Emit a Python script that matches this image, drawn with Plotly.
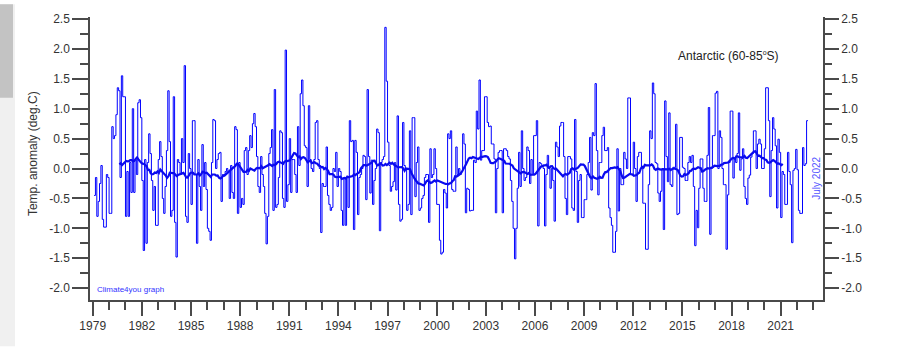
import numpy as np
import plotly.graph_objects as go

# Monthly temperature anomalies (deg C), Antarctic 60-85S, Jan 1979 - Jul 2022
anom_1979_1988 = [
    -0.45, -0.15, -0.8, -0.55, -0.25, 0.05, -0.85, -0.98, -0.98, -0.1, -0.15, -0.75,
    -0.75, 0.7, 0.5, 0.55, 0.9, 1.35, 1.3, -0.15, 1.55, 1.2, 1.2, -0.8,
    -0.05, -0.8, 0.1, -0.4, 1.0, -0.4, 0.15, -0.1, 1.1, 1.15, 0.85, -0.2,
    -1.37, 0.15, -1.25, 0.1, 0.58, 0.25, -0.2, -0.7, -0.3, -0.95, -0.95, 0.15,
    0.45, 0.2, -0.5, -0.75, -0.3, 0.3, 1.3, 0.45, -0.8, -0.7, 1.2, -0.9,
    -1.48, 0.15, 0.1, -0.1, 0.5, 0.1, 1.72, -0.8, -0.9, 0.25, 0.0, -0.6,
    0.8, 0.8, -0.1, -1.25, 0.15, -0.3, -0.7, 0.4, -0.3, 0.1, -0.35, -1.0,
    -1.05, -1.2, 0.1, 0.82, 0.8, 0.0, 0.15, 0.25, 0.27, -0.55, -0.1, -0.1,
    -0.05, 0.0, -0.05, -0.5, 0.05, -0.4, -0.5, 0.7, 0.65, -0.75, 0.1, -0.65,
    -0.5, -0.6, 0.3, 0.35, -0.1, 0.3, 0.55, 0.35, 0.75, 0.92, 0.7, 0.2,
]
anom_1989_1998 = [
    -0.3, -0.4, 0.2, -0.1, -0.3, -0.75, -1.26, -0.8, 0.25, 0.35, 0.65, -0.7,
    1.32, -0.65, -0.6, -0.15, 0.63, 0.6, -0.5, -0.65, 1.98, -0.55, -0.27, 0.5,
    -0.4, 0.15, 0.15, -0.1, -0.4, 0.7, 0.05, 1.25, 1.48, 1.05, 0.38, 0.35,
    -0.3, 1.05, 0.15, 0.0, -0.05, 0.15, 0.77, 0.8, 0.15, 0.0, -1.07, -0.25,
    -0.3, -0.3, 0.36, -0.45, -0.6, -0.7, -0.65, 0.0, -0.05, 0.27, -0.3, 0.0,
    -0.05, -0.7, -0.95, -0.15, -0.95, -0.15, -0.65, 0.8, 0.45, 0.47, -1.02, 0.47,
    0.27, -0.77, -0.15, -0.1, 0.0, 0.22, 0.2, -0.52, 1.32, 0.2, -0.41, 0.14,
    -0.6, -0.2, 0.0, 0.66, 0.6, -1.04, 0.1, 0.15, 0.2, 2.36, 1.46, 0.44,
    0.05, -0.38, -0.3, -0.22, 0.1, -0.36, 0.88, -0.6, -0.88, -0.85, 0.77, 0.05,
    0.0, -0.7, -0.6, 0.63, -0.77, 0.85, 0.85, -0.47, 0.1, 0.36, -0.7, -0.66,
]
anom_1999_2008 = [
    -0.5, -0.45, -0.15, -0.1, -0.1, -0.9, 0.33, -0.15, -0.1, 0.33, 0.0, -0.6,
    -0.6, -1.2, -1.43, -1.4, -0.35, -0.41, -0.66, 0.58, 0.5, 0.63, -0.35, -0.38,
    -0.38, 0.36, -0.1, 0.0, -0.1, -0.05, 0.58, 0.41, -0.74, -0.33, -0.35, -0.71,
    -0.7, -0.7, 0.14, 0.1, 0.96, 0.66, 1.48, 0.14, 0.3, 0.3, 1.2, 1.2,
    0.77, 0.7, 0.71, 0.41, 0.41, 0.16, -0.74, 0.0, 0.27, 0.3, 0.3, -0.74,
    0.33, 0.33, 0.3, 0.2, 0.16, -0.2, -0.55, -1.0, -1.51, -1.0, -0.33, 0.27,
    -0.3, 0.63, 0.0, -0.2, -0.15, 0.36, 0.3, -0.25, 0.15, -0.1, 0.55, 0.55,
    0.8, -0.96, 0.1, 0.08, 0.05, 0.0, -0.96, -0.1, 0.22, 0.0, -0.33, 0.0,
    -0.2, -0.88, 0.44, 0.36, 0.2, 0.71, 0.77, 0.77, 0.2, -0.5, -0.77, 0.2,
    0.2, 0.16, -0.66, -0.7, 0.82, -0.05, -0.9, -0.2, -0.1, -0.82, -0.82, -0.52,
]
anom_2009_2018 = [
    -0.52, -0.1, 0.1, 0.52, -0.36, 0.6, 0.55, 1.42, 0.3, -0.44, 0.1, 0.1,
    0.55, 0.69, 0.3, 0.3, 0.35, -0.66, -0.82, -0.95, -1.4, -1.4, -1.05, 0.33,
    -0.71, 0.0, -0.27, -0.27, 0.27, 0.16, 0.0, 1.18, 1.18, -0.1, -0.1, 0.44,
    0.0, -0.55, 0.2, 0.27, 0.27, 0.0, -0.58, -0.58, -1.35, -1.35, -0.27, 0.63,
    0.5, 1.43, 1.25, 0.1, 0.08, -0.41, -0.55, -0.38, 0.0, -1.02, 1.13, 0.2,
    -0.22, 0.93, -0.27, -0.3, 0.02, 0.02, 0.74, -0.77, -0.75, 0.52, 0.52, 0.02,
    0.0, -0.2, -0.2, 0.1, 0.2, 0.1, 0.22, -0.3, -1.29, -0.7, -0.99, -0.33,
    0.16, 0.16, -0.33, -0.55, -0.55, 0.22, 1.02, -1.1, 0.0, 0.55, 0.55, 1.26,
    1.29, 0.0, 0.63, 0.52, 0.0, -0.27, -0.27, -1.35, -0.44, 0.1, 0.96, 0.96,
    -0.16, 0.16, 0.1, 0.25, 0.93, -0.03, 0.16, 0.33, -0.3, -0.5, -0.6, -0.16,
]
anom_2019_2022 = [
    -0.11, 0.19, 0.25, 0.63, 0.63, 0.0, 0.41, 0.49, 0.41, 0.0, 0.0, 0.33,
    1.35, 1.35, 0.8, -0.47, 0.3, 0.85, 0.66, 0.38, -0.66, 0.49, 0.27, -0.82,
    -0.05, -0.1, -0.6, -0.6, 0.27, -0.05, -0.27, -1.24, -0.03, 0.0, 0.32, -0.02,
    -0.7, -0.75, -0.75, 0.35, 0.05, 0.08, 0.8,
]

y_major = [-2.0, -1.5, -1.0, -0.5, 0.0, 0.5, 1.0, 1.5, 2.0, 2.5]
y_labels = ["-2.0", "-1.5", "-1.0", "-0.5", "0.0", "0.5", "1.0", "1.5", "2.0", "2.5"]
y_minor = [-1.75, -1.25, -0.75, -0.25, 0.25, 0.75, 1.25, 1.75, 2.25]
x_major = list(range(1979, 2022, 3))
x_labels = [str(v) for v in x_major]
x_minor = list(range(1979, 2024))

RUN_WINDOW = 37  # months in the centred running mean

anomaly = np.array(anom_1979_1988 + anom_1989_1998 + anom_1999_2008
                   + anom_2009_2018 + anom_2019_2022)
n = len(anomaly)
t_start = 1979 + (np.arange(n) + 1) / 12.0
# close the last monthly step
x_step = np.append(t_start, t_start[-1] + 1 / 12.0)
y_step = np.append(anomaly, anomaly[-1])

half = RUN_WINDOW // 2
run_mean = np.convolve(anomaly, np.ones(RUN_WINDOW) / RUN_WINDOW, mode="valid")
t_run = t_start[half:n - half] + 0.5 / 12.0

AXIS_COL = "#4a4a4a"
TICK_FONT = dict(family="Liberation Sans, Arial, sans-serif", size=12, color="#333333")

fig = go.Figure()
fig.add_trace(go.Scatter(
    x=x_step, y=y_step, mode="lines", line=dict(color="#0000ff", width=1, shape="hv"),
    hoverinfo="skip", yaxis="y",
))
fig.add_trace(go.Scatter(
    x=t_run, y=run_mean, mode="lines", line=dict(color="#0a0aee", width=2.2),
    hoverinfo="skip", yaxis="y2",
))

y_range = [-2.198, 2.533]
fig.update_layout(
    width=900, height=347,
    margin=dict(l=90, r=77, t=13, b=47, pad=0),
    paper_bgcolor="white", plot_bgcolor="white",
    showlegend=False,
    font=dict(family="Liberation Sans, Arial, sans-serif", size=12, color="#333333"),
    xaxis=dict(
        range=[1978.835, 2023.585], showgrid=False, zeroline=False,
        showline=True, linecolor=AXIS_COL, linewidth=1.5,
        ticks="outside", ticklen=14, tickwidth=1.5, tickcolor=AXIS_COL,
        tickmode="array", tickvals=x_major, ticktext=x_labels, tickfont=TICK_FONT,
        minor=dict(tickvals=x_minor, ticks="outside", ticklen=8, tickwidth=1.5,
                   tickcolor=AXIS_COL, showgrid=False),
    ),
    yaxis=dict(
        range=y_range, showgrid=False, zeroline=False,
        showline=True, linecolor=AXIS_COL, linewidth=1.5,
        ticks="outside", ticklen=16, tickwidth=1.5, tickcolor=AXIS_COL,
        tickmode="array", tickvals=y_major, ticktext=y_labels, tickfont=TICK_FONT,
        minor=dict(tickvals=y_minor, ticks="outside", ticklen=8, tickwidth=1.5,
                   tickcolor=AXIS_COL, showgrid=False),
    ),
    yaxis2=dict(
        range=y_range, overlaying="y", side="right", anchor="x",
        showgrid=False, zeroline=False,
        showline=True, linecolor=AXIS_COL, linewidth=1.5,
        ticks="outside", ticklen=14, tickwidth=1.5, tickcolor=AXIS_COL,
        tickmode="array", tickvals=y_major, ticktext=y_labels, tickfont=TICK_FONT,
        minor=dict(tickvals=y_minor, ticks="outside", ticklen=7, tickwidth=1.5,
                   tickcolor=AXIS_COL, showgrid=False),
    ),
)

fig.add_annotation(
    text="Temp. anomaly (deg.C)", xref="paper", yref="paper",
    x=(33 - 90) / 733, y=(300 - 152) / 287, textangle=-90, showarrow=False,
    xanchor="center", yanchor="middle", font=dict(size=12, color="#333333"),
)
fig.add_annotation(
    text="Antarctic (60-85<sup><span style='font-size:7px'>o</span></sup>S)",
    xref="paper", yref="paper",
    x=(676 - 90) / 733, y=(300 - 53) / 287, showarrow=False,
    xanchor="left", yanchor="middle", font=dict(size=12, color="#222222"),
)
fig.add_annotation(
    text="Climate4you graph", xref="paper", yref="paper",
    x=(95 - 90) / 733, y=(300 - 289) / 287, showarrow=False,
    xanchor="left", yanchor="middle", font=dict(size=8, color="#3333ff"),
)
fig.add_annotation(
    text="July 2022", xref="paper", yref="paper",
    x=(816.5 - 90) / 733, y=(300 - 176.5) / 287, textangle=-90, showarrow=False,
    xanchor="center", yanchor="middle", font=dict(size=10, color="#5555ff"),
)

# window-edge strip on the left of the page
fig.add_shape(type="rect", xref="paper", yref="paper",
              x0=(0 - 90) / 733, x1=(15 - 90) / 733, y0=(300 - 347) / 287, y1=(300 - 0) / 287,
              fillcolor="#f0f0f0", line=dict(width=0), layer="below")
fig.add_shape(type="rect", xref="paper", yref="paper",
              x0=(0 - 90) / 733, x1=(13 - 90) / 733, y0=(300 - 95) / 287, y1=(300 - 0) / 287,
              fillcolor="#c3c3c3", line=dict(width=0), layer="below")

fig.write_html("out.html")
